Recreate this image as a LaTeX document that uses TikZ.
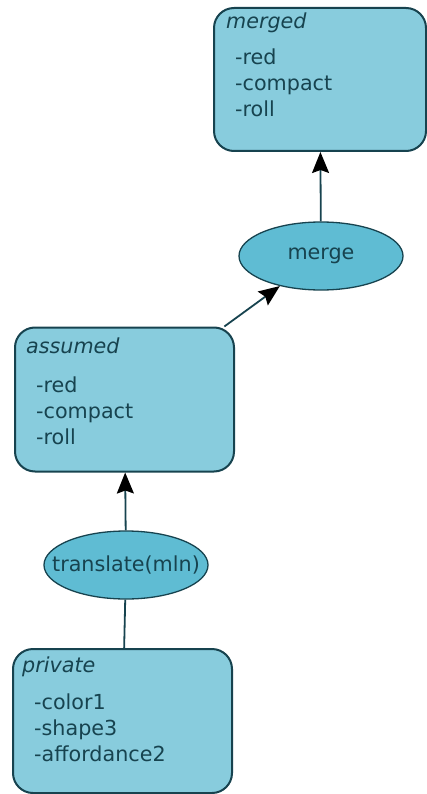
\documentclass[tikz,border=0pt]{standalone}
\usepackage{fontspec}
\setmainfont{DejaVu Sans}
\usetikzlibrary{arrows.meta,shapes.geometric}
\definecolor{boxfill}{HTML}{88CCDD}
\definecolor{opfill}{HTML}{5FBCD3}
\definecolor{edgeteal}{HTML}{17434F}
\begin{document}
\begin{tikzpicture}[x=1pt,y=-1pt,
    font=\fontsize{20.7}{26}\selectfont, text=edgeteal,
    state/.style={draw=edgeteal, line width=2pt, fill=boxfill, rounded corners=20pt,
      minimum width=219pt, minimum height=144pt, inner sep=0pt},
    op/.style={ellipse, draw=edgeteal, line width=1.3pt, fill=opfill,
      minimum width=164pt, minimum height=68pt, inner sep=0pt},
    head/.style={anchor=base west, inner sep=0pt, font=\fontsize{20.7}{26}\selectfont\itshape},
    items/.style={anchor=base west, inner sep=0pt, align=left},
    link/.style={draw=edgeteal, line width=1.8pt},
    flow/.style={link, -{Stealth[length=21pt,width=17pt,inset=3pt,color=black]}}]
  \useasboundingbox (0,0) rectangle (427,794);

  % states and operations
  \node[state, minimum width=212pt, minimum height=143pt] (merged) at (320,79.5) {};
  \node[op] (merge) at (321,256) {merge};
  \node[state] (assumed) at (124.5,399.5) {};
  \node[op, inner xsep=-16pt] (translate) at (126,565) {translate(mln)};
  \node[state] (private) at (122.5,721) {};

  % names and lists inside the boxes (lists sit on their last line)
  \node[head] (mergedname) at (226,29) {merged};
  \node[items] (mergedlist) at (235,117) {-red\\-compact\\-roll};
  \node[head] (assumedname) at (26,353) {assumed};
  \node[items] (assumedlist) at (36,444) {-red\\-compact\\-roll};
  \node[head] (privatename) at (22,672) {private};
  \node[items] (privatelist) at (34,761) {-color1\\-shape3\\-affordance2};

  % connectors
  \draw[link] (private) -- (translate);
  \draw[flow] (translate) -- (assumed);
  \draw[flow] (assumed) -- (merge);
  \draw[flow] (merge) -- (merged);
\end{tikzpicture}
\end{document}
